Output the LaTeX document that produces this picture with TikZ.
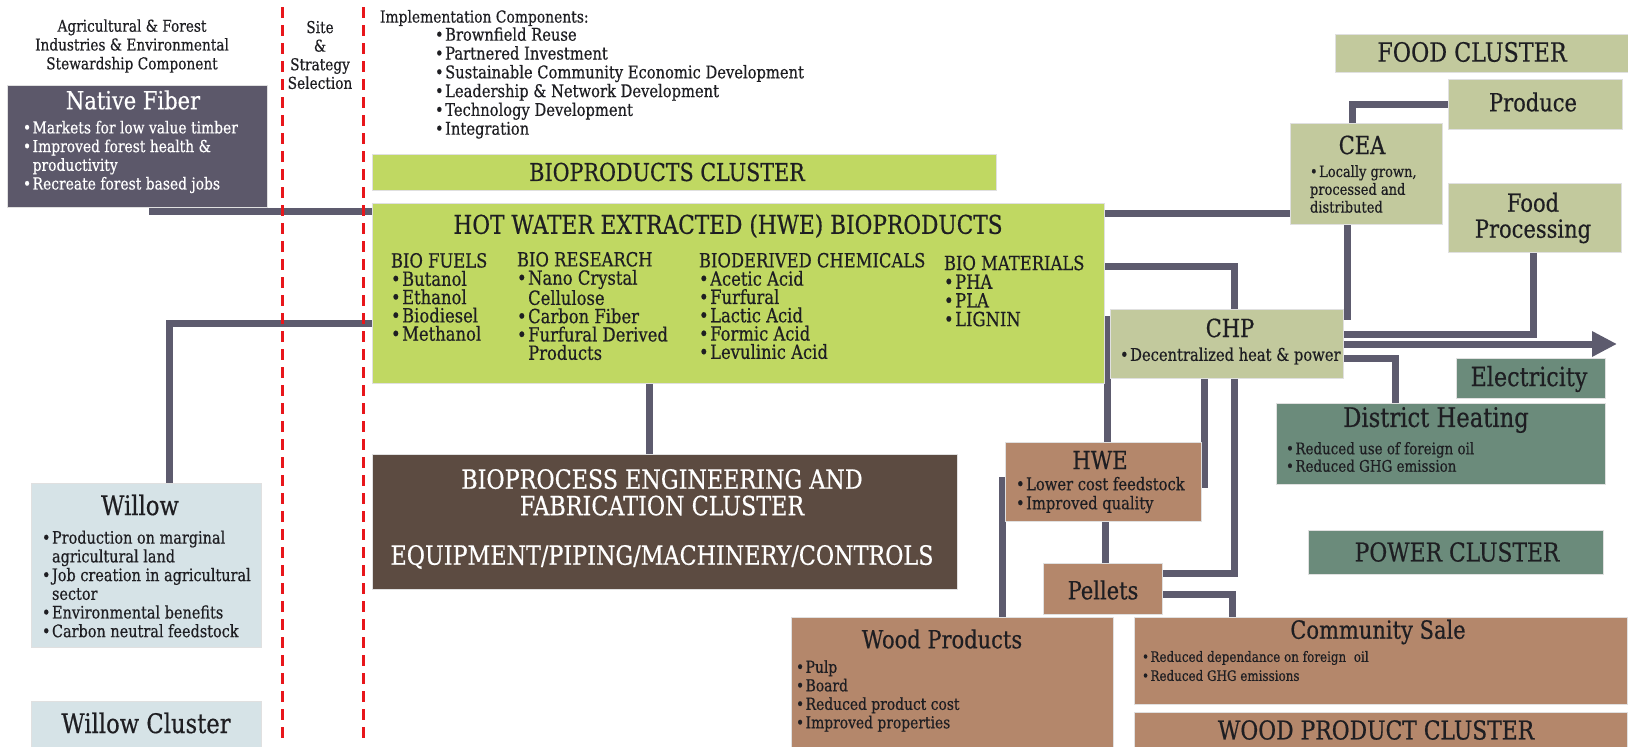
\documentclass[tikz,border=0pt]{standalone}
\usepackage{fontspec}
\setmainfont{DejaVu Serif}[FakeStretch=0.84, FakeBold=0.5]
\usetikzlibrary{arrows.meta}

\definecolor{ink}{HTML}{1E1E22}
\definecolor{slate}{HTML}{5C586A}
\definecolor{pipe}{HTML}{5D5B6E}
\definecolor{bio}{HTML}{C0D862}
\definecolor{sage}{HTML}{C2C99D}
\definecolor{clay}{HTML}{B4876B}
\definecolor{umber}{HTML}{5C4B41}
\definecolor{teal}{HTML}{6B8B7B}
\definecolor{mist}{HTML}{D6E3E7}
\definecolor{alarm}{HTML}{E8161B}

\pgfdeclarelayer{bg}
\pgfsetlayers{bg,main}

% filled panel given by its top-left and bottom-right corners
\newcommand{\panel}[6]{%
  \node[panel, fill=#6, minimum width={(#4-#2)*1pt}, minimum height={(#5-#3)*1pt},
        anchor=north west] (#1) at (#2,#3) {};}
\newcommand{\bul}{\textbullet\hspace{1.5pt}}
\newcommand{\bulgap}{\phantom{\bul}}
\newcommand{\setsz}[2]{\fontsize{#1}{#2}\selectfont}

\tikzset{
  panel/.style={rectangle, inner sep=0pt, outer sep=0pt, draw=white!88!black, line width=0.8pt},
  txt/.style={inner sep=0pt, outer sep=0pt, text=ink},
  wtxt/.style={inner sep=0pt, outer sep=0pt, text=white},
  conn/.style={draw=pipe, line width=7pt, line join=miter},
  reddash/.style={draw=alarm, line width=3pt, dash pattern=on 11pt off 7pt},
  body/.style={font={\setsz{16.5}{18.7}}, align=left},
  head/.style={font={\setsz{25}{28}}},
  colhead/.style={font={\setsz{19.5}{18.3}}, align=left, anchor=west},
}

\begin{document}
\begin{tikzpicture}[x=1pt, y=-1pt]
\useasboundingbox (0,0) rectangle (1628,747);

% ---------- panels ----------
\panel{nf}{7}{85}{267}{207}{slate}
\panel{wil}{31}{483}{261}{647}{mist}
\panel{wcl}{31}{701}{261}{747}{mist}
\panel{bpc}{372}{154}{996}{190}{bio}
\panel{hwe}{372}{203}{1104}{383}{bio}
\panel{bp}{372}{454}{957}{589}{umber}
\panel{fc}{1335}{34}{1628}{72}{sage}
\panel{prod}{1448}{79}{1622}{129}{sage}
\panel{cea}{1290}{123}{1442}{224}{sage}
\panel{fp}{1448}{183}{1621}{252}{sage}
\panel{chp}{1110}{309}{1343}{378}{sage}
\panel{elec}{1456}{358}{1605}{398}{teal}
\panel{dh}{1276}{403}{1605}{484}{teal}
\panel{pc}{1308}{530}{1603}{574}{teal}
\panel{hwes}{1005}{442}{1201}{521}{clay}
\panel{pel}{1043}{563}{1162}{614}{clay}
\panel{wp}{791}{617}{1113}{747}{clay}
\panel{cs}{1134}{617}{1627}{704}{clay}
\panel{wpc}{1134}{712}{1627}{747}{clay}

\coordinate (tip) at (1617,344);

% ---------- connectors ----------
\begin{pgfonlayer}{bg}
\draw[conn] (152,0 |- nf.south) |- (hwe.west |- 0,211);
\draw[conn] (169,0 |- wil.north) |- (hwe.west |- 0,323);
\draw[conn] (649,0 |- hwe.south) -- (649,0 |- bp.north);
\draw[conn] (hwe.east |- 0,213) -- (cea.west |- 0,213);
\draw[conn] (hwe.east |- 0,266) -| (1234,0 |- chp.north);
\draw[conn] (1107,0 |- 0,316) -- (1107,0 |- hwes.north);
\draw[conn] (1204,0 |- chp.south) -- (1204,488);
\draw[conn] (1234,0 |- chp.south) |- (pel.east |- 0,573);
\draw[conn] (pel.east |- 0,594) -| (1232,0 |- cs.north);
\draw[conn] (1105,0 |- hwes.south) -- (1105,0 |- pel.north);
\draw[conn] (1002,477) -- (1002,0 |- wp.north);
\draw[conn] (1352,0 |- cea.north) |- (prod.west |- 0,104);
\draw[conn] (1347,0 |- cea.south) |- (chp.east |- 0,316);
\draw[conn] (chp.east |- 0,334) -| (1533,0 |- fp.south);
\draw[conn] (chp.east |- 0,358) -| (1395,0 |- dh.north);
\draw[conn, -{Triangle[length=25pt, width=24pt]}] (chp.east |- 0,344) -- (tip);
\end{pgfonlayer}

% ---------- phase separators ----------
\draw[reddash] (282,7) -- (282,741);
\draw[reddash] (363,7) -- (363,741);

% ---------- headings ----------
\node[txt, align=center, font={\setsz{16.3}{18.8}}] (hdrag) at (132,46)
  {Agricultural \& Forest\\Industries \& Environmental\\Stewardship Component};
\node[txt, align=center, font={\setsz{16.3}{18.6}}] (hdrsite) at (320,55)
  {Site\\\&\\Strategy\\Selection};
\node[txt, anchor=west, font={\setsz{16.5}{18.8}}] (impl) at (380,18) {Implementation Components:};
\node[txt, anchor=west, font={\setsz{17.5}{18.8}}, align=left] (impllist) at (435,83)
  {\bul Brownfield Reuse\\\bul Partnered Investment\\\bul Sustainable Community Economic Development\\
   \bul Leadership \& Network Development\\\bul Technology Development\\\bul Integration};

% ---------- native fiber / willow ----------
\node[wtxt, head] (nft) at (133,100) {Native Fiber};
\node[wtxt, body, anchor=west] (nfb) at (23,157)
  {\bul Markets for low value timber\\\bul Improved forest health \&\\\bulgap productivity\\\bul Recreate forest based jobs};
\node[txt, font={\setsz{27}{30}}] (wilt) at (140,505) {Willow};
\node[txt, body, font={\setsz{17.2}{18.7}}, anchor=west] (wilb) at (42,584)
  {\bul Production on marginal\\\bulgap agricultural land\\\bul Job creation in agricultural\\\bulgap sector\\
   \bul Environmental benefits\\\bul Carbon neutral feedstock};
\node[txt, font={\setsz{27}{30}}] (wclt) at (146,723) {Willow Cluster};

% ---------- bioproducts ----------
\node[txt, font={\setsz{24.6}{28}}] (bpct) at (667,172) {BIOPRODUCTS CLUSTER};
\node[txt, font={\setsz{25.8}{28}}] (hwet) at (728,226) {HOT WATER EXTRACTED (HWE) BIOPRODUCTS};
\node[txt, colhead] (colfuel) at (391,297)
  {BIO FUELS\\\bul Butanol\\\bul Ethanol\\\bul Biodiesel\\\bul Methanol};
\node[txt, colhead] (colres) at (517,306)
  {BIO RESEARCH\\\bul Nano Crystal\\\bulgap Cellulose\\\bul Carbon Fiber\\\bul Furfural Derived\\\bulgap Products};
\node[txt, colhead] (colchem) at (699,306)
  {BIODERIVED CHEMICALS\\\bul Acetic Acid\\\bul Furfural\\\bul Lactic Acid\\\bul Formic Acid\\\bul Levulinic Acid};
\node[txt, colhead, font={\setsz{19.5}{18.7}}] (colmat) at (944,291)
  {BIO MATERIALS\\\bul PHA\\\bul PLA\\\bul LIGNIN};

\node[wtxt, align=center, font={\setsz{26.5}{26.5}}] (bpt) at (662,519)
  {BIOPROCESS ENGINEERING AND\\FABRICATION CLUSTER\\[23pt]EQUIPMENT/PIPING/MACHINERY/CONTROLS};

% ---------- food ----------
\node[txt, font={\setsz{26.5}{28}}] (fct) at (1472,52) {FOOD CLUSTER};
\node[txt, head] (prodt) at (1533,102) {Produce};
\node[txt, head] (ceat) at (1362,145) {CEA};
\node[txt, font={\setsz{15.5}{17.8}}, align=left, anchor=west] (ceab) at (1310,189)
  {\bul Locally grown,\\processed and\\distributed};
\node[txt, head, align=center, font={\setsz{25}{26}}] (fpt) at (1533,218) {Food\\Processing};

% ---------- power ----------
\node[txt, head] (chpt) at (1230,328) {CHP};
\node[txt, body, font={\setsz{17.5}{18.7}}, anchor=west] (chpb) at (1120,356) {\bul Decentralized heat \& power};
\node[txt, font={\setsz{26.5}{28}}] (elect) at (1529,379) {Electricity};
\node[txt, font={\setsz{27}{28}}] (dht) at (1436,420) {District Heating};
\node[txt, body, font={\setsz{16}{17.5}}, anchor=west] (dhb) at (1286,457)
  {\bul Reduced use of foreign oil\\\bul Reduced GHG emission};
\node[txt, font={\setsz{26}{28}}] (pct) at (1457,552) {POWER CLUSTER};

% ---------- wood ----------
\node[txt, head] (hwest) at (1100,460) {HWE};
\node[txt, body, font={\setsz{17.5}{19}}, anchor=west] (hwesb) at (1016,495)
  {\bul Lower cost feedstock\\\bul Improved quality};
\node[txt, head] (pelt) at (1103,590) {Pellets};
\node[txt, head] (wpt) at (942,639) {Wood Products};
\node[txt, body, font={\setsz{16.5}{18.5}}, anchor=west] (wpb) at (796,696)
  {\bul Pulp\\\bul Board\\\bul Reduced product cost\\\bul Improved properties};
\node[txt, head] (cst) at (1378,632) {Community Sale};
\node[txt, body, font={\setsz{14.2}{19}}, anchor=west] (csb) at (1142,666)
  {\bul Reduced dependance on foreign~ oil\\\bul Reduced GHG emissions};
\node[txt, font={\setsz{26}{28}}] (wpct) at (1376,730) {WOOD PRODUCT CLUSTER};

\end{tikzpicture}
\end{document}
